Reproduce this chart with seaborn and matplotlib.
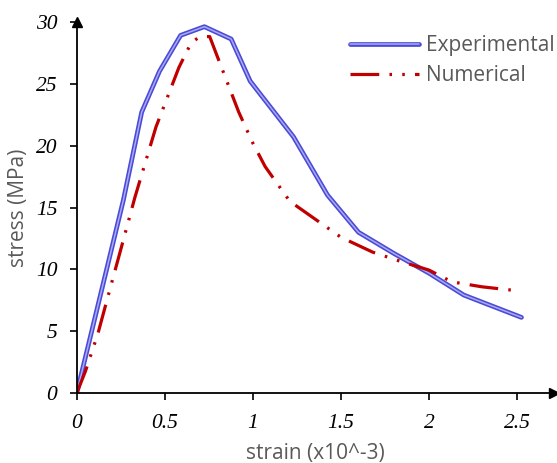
import matplotlib
matplotlib.use("Agg")
import matplotlib.pyplot as plt
import matplotlib.patheffects as pe
import seaborn as sns
import pandas as pd

# valeurs (deformation en 1e-3, contrainte en MPa)
exp_strain = [0, 0.265, 0.369, 0.47, 0.59, 0.725, 0.877, 0.985, 1.231, 1.424, 1.60, 1.80, 2.0, 2.198, 2.525]
exp_stress = [0, 15.6, 22.7, 26.0, 28.9, 29.6, 28.6, 25.2, 20.7, 16.0, 13.0, 11.3, 9.7, 7.93, 6.13]

num_strain = [0, 0.05, 0.12, 0.20, 0.25, 0.33, 0.45, 0.58, 0.65, 0.70, 0.755, 0.79, 0.92, 1.0,
              1.07, 1.21, 1.32, 1.50, 1.68, 1.85, 2.0, 2.13, 2.30, 2.47]
num_stress = [0, 1.8, 4.8, 9.0, 11.6, 15.8, 21.5, 26.3, 28.3, 28.8, 28.8, 27.5, 22.7, 20.2,
              18.3, 15.5, 14.4, 12.6, 11.4, 10.6, 9.95, 9.0, 8.6, 8.33]

x_ticks = [0, 0.5, 1, 1.5, 2, 2.5]
x_labels = ["0", "0.5", "1", "1.5", "2", "2.5"]
y_ticks = [0, 5, 10, 15, 20, 25, 30]

sns.set_style("white")
gris = "#595959"

df_exp = pd.DataFrame({"strain": exp_strain, "stress": exp_stress})
df_num = pd.DataFrame({"strain": num_strain, "stress": num_stress})

fig = plt.figure(figsize=(5.57, 4.63), dpi=100)
ax = fig.add_axes([0.1377, 0.1505, 0.857, 0.8026])

# courbe experimentale : double trait bleu
sns.lineplot(data=df_exp, x="strain", y="stress", ax=ax, color="#aaaaf6", lw=1.1,
             label="Experimental", sort=False,
             path_effects=[pe.Stroke(linewidth=3.4, foreground="#4a4ad6"), pe.Normal()])
# courbe numerique : tiret point point rouge
sns.lineplot(data=df_num, x="strain", y="stress", ax=ax, color="#c00000", lw=2.3,
             label="Numerical", sort=False, dashes=False)
ax.lines[-1].set_dashes([9, 3.2, 0.8, 3.2, 0.8, 3.2])

ax.set_xlim(0, 2.71)
ax.set_ylim(0, 30)

for s in ["top", "right"]:
    ax.spines[s].set_visible(False)
for s in ["left", "bottom"]:
    ax.spines[s].set_color("black")
    ax.spines[s].set_linewidth(1.3)

# fleches des axes
ax.plot(1, 0, ">k", ms=7, transform=ax.transAxes, clip_on=False)
ax.plot(0, 1, "^k", ms=7, transform=ax.transAxes, clip_on=False)

ax.set_xticks(x_ticks)
ax.set_xticklabels(x_labels)
ax.set_yticks(y_ticks)
ax.tick_params(axis="both", direction="out", length=5, width=1.2, color="black",
               left=True, bottom=True)
ax.tick_params(axis="y", pad=9)
ax.tick_params(axis="x", pad=10)
for lab in ax.get_xticklabels() + ax.get_yticklabels():
    lab.set_fontfamily("Liberation Serif")
    lab.set_fontstyle("italic")
    lab.set_fontsize(15.5)
    lab.set_color("black")

ax.set_xlabel("strain (x10^-3)", fontsize=15, color=gris, family="Open Sans", labelpad=7)
ax.set_ylabel("stress (MPa)", fontsize=15, color=gris, family="Open Sans", labelpad=5)

leg = ax.legend(loc="upper left", bbox_to_anchor=(350 / 557, 1 - 35 / 463),
                bbox_transform=fig.transFigure, frameon=False,
                handlelength=3.3, handletextpad=0.35, borderpad=0, borderaxespad=0,
                labelspacing=0.45, prop={"family": "Open Sans", "size": 15})
for t in leg.get_texts():
    t.set_color(gris)

fig.savefig("out.png", dpi=100)
